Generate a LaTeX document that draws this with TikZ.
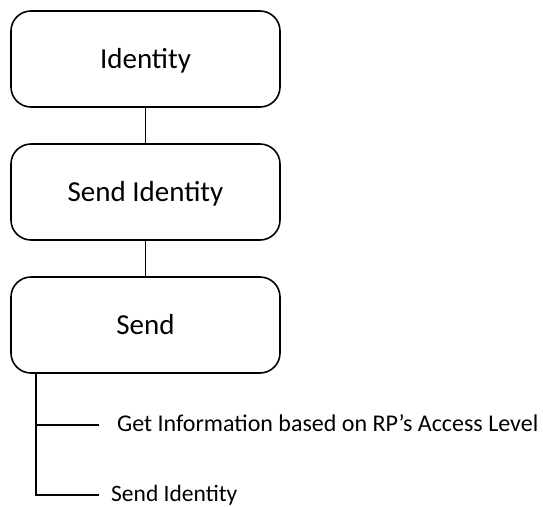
\documentclass[tikz,border=0pt]{standalone}
\usepackage{fontspec}
\setmainfont{Carlito}
\begin{document}
\begin{tikzpicture}[x=1pt,y=1pt,
  box/.style={draw,line width=1.6pt,rounded corners=20pt,minimum width=269pt,minimum height=96pt,inner sep=0pt,text height=18.7pt,text depth=0pt,font=\fontsize{29}{34}\selectfont},
  leaf/.style={anchor=base west,inner sep=0pt,font=\fontsize{23.5}{28}\selectfont},
  conn/.style={line width=1.6pt}]
\useasboundingbox (0,0) rectangle (543,-506);
\node[box] (b1) at (145.5,-59) {Identity};
\node[box] (b2) at (145.5,-192) {Send Identity};
\node[box] (b3) at (145.5,-325) {Send};
\draw[conn] (b1.south) -- (b2.north);
\draw[conn] (b2.south) -- (b3.north);
\coordinate (trunk) at (36,-373);
\node[leaf,font=\fontsize{24}{28}\selectfont] (l1) at (117,-431) {Get Information based on RP’s Access Level};
\node[leaf] (l2) at (111,-501) {Send Identity};
\coordinate (e1) at (99,-425);
\coordinate (e2) at (99,-495);
\draw[conn] (trunk) |- (e2);
\draw[conn] (trunk |- e1) -- (e1);
\end{tikzpicture}
\end{document}
